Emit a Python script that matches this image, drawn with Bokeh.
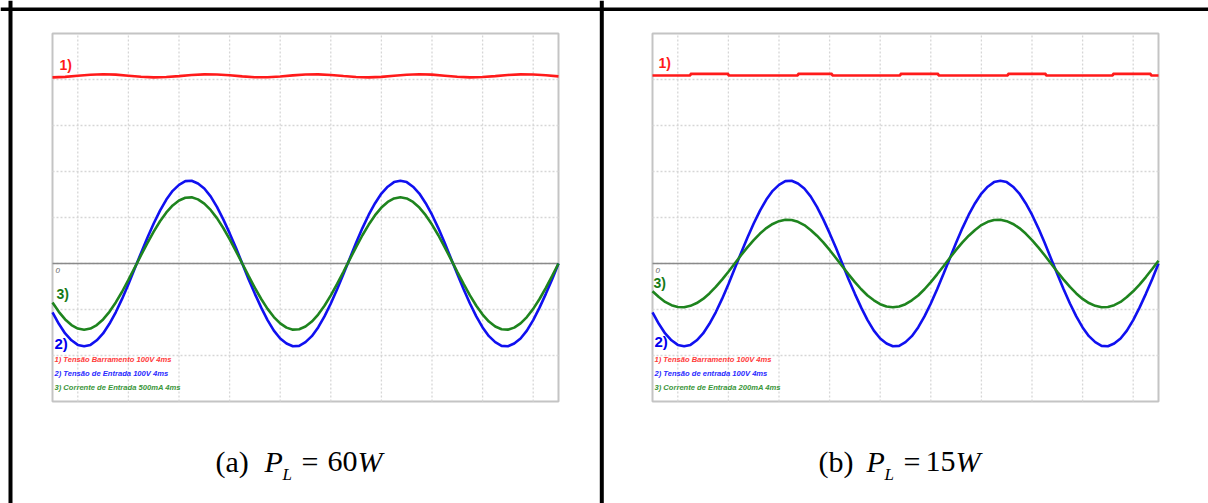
from bokeh.plotting import figure
from bokeh.models import Range1d
from bokeh.core.properties import value
from bokeh.embed import file_html
from bokeh.resources import INLINE

# ---------------- data ----------------
# sample instants (ms), 0.5 ms apart, over the 10 x 4 ms screen
t_ms = [0.5 * k for k in range(81)]
# red trace time base (ms) for panel a, 1 ms apart
t_red_a = [float(k) for k in range(41)]

# (a) P_L = 60 W
bus_a_V = [404.7, 405.8, 408.1, 410.3, 411.3, 410.5, 408.3, 406.0, 404.7, 405.3,
           407.3, 409.7, 411.2, 410.9, 409.1, 406.7, 405.0, 404.9, 406.5, 408.9,
           410.9, 411.2, 409.8, 407.5, 405.4, 404.7, 405.8, 408.1, 410.3, 411.3,
           410.5, 408.3, 406.0, 404.7, 405.3, 407.3, 409.7, 411.2, 410.9, 409.1,
           406.7]
vin_a_V = [-106, -131, -152, -167, -177, -180, -177, -167, -152, -131, -106,
           -77, -45, -11, 23, 56, 87, 115, 139, 158, 171,
           179, 180, 174, 163, 146, 123, 96, 66, 34, 0,
           -34, -66, -96, -123, -146, -163, -174, -180, -179, -171,
           -158, -139, -115, -87, -56, -23, 11, 45, 77, 106,
           131, 152, 167, 177, 180, 177, 167, 152, 131, 106,
           77, 45, 11, -23, -56, -87, -115, -139, -158, -171,
           -179, -180, -174, -163, -146, -123, -96, -66, -34, 0]
iin_a_mA = [-423, -525, -608, -669, -707, -720, -707, -669, -608, -525, -423,
            -307, -179, -45, 90, 222, 347, 459, 555, 631, 685,
            714, 719, 697, 651, 582, 493, 386, 265, 135, 0,
            -135, -265, -386, -493, -582, -651, -697, -719, -714, -685,
            -631, -555, -459, -347, -222, -90, 45, 179, 307, 423,
            525, 608, 669, 707, 720, 707, 669, 608, 525, 423,
            307, 179, 45, -90, -222, -347, -459, -555, -631, -685,
            -714, -719, -697, -651, -582, -493, -386, -265, -135, 0]

# (b) P_L = 15 W
t_red_b = [0, 3.0, 3.0, 6.0, 6.0, 11.5, 11.5, 14.2, 14.2, 19.6, 19.6,
           22.6, 22.6, 28.1, 28.1, 31.1, 31.1, 36.4, 36.4, 39.4, 39.4, 40]
bus_b_V = [408.6, 408.6, 412.2, 412.2, 408.6, 408.6, 412.2, 412.2, 408.6, 408.6, 412.2,
           412.2, 408.6, 408.6, 412.2, 412.2, 408.6, 408.6, 412.2, 412.2, 408.6, 408.6]
vin_b_V = [-106, -131, -152, -167, -177, -180, -177, -167, -152, -131, -106,
           -77, -45, -11, 23, 56, 87, 115, 139, 158, 171,
           179, 180, 174, 163, 146, 123, 96, 66, 34, 0,
           -34, -66, -96, -123, -146, -163, -174, -180, -179, -171,
           -158, -139, -115, -87, -56, -23, 11, 45, 77, 106,
           131, 152, 167, 177, 180, 177, 167, 152, 131, 106,
           77, 45, 11, -23, -56, -87, -115, -139, -158, -171,
           -179, -180, -174, -163, -146, -123, -96, -66, -34, 0]
iin_b_mA = [-121, -146, -167, -181, -189, -190, -184, -172, -154, -130, -102,
            -70, -36, 0, 36, 70, 102, 130, 154, 172, 184,
            190, 189, 181, 167, 146, 121, 92, 59, 24, -12,
            -47, -81, -112, -139, -160, -177, -187, -190, -187, -177,
            -160, -139, -112, -81, -47, -12, 24, 59, 92, 121,
            146, 167, 181, 189, 190, 184, 172, 154, 130, 102,
            70, 36, 0, -36, -70, -102, -130, -154, -172, -184,
            -190, -189, -181, -167, -146, -121, -92, -59, -24, 12]

# scope settings (per division)
volts_per_div = 100
ma_per_div = [500, 200]
ms_per_div = 4
n_xdiv = 10
ydiv_min, ydiv_max = -3, 5

legend_a = ["1) Tensão Barramento 100V  4ms", "2) Tensão de Entrada 100V  4ms",
            "3) Corrente de Entrada 500mA  4ms"]
legend_b = ["1) Tensão Barramento  100V  4ms", "2) Tensão de entrada 100V  4ms",
            "3) Corrente de Entrada 200mA  4ms"]
caption_letters = ["(a)", "(b)"]
caption_power = ["60", "15"]

# ---------------- layout (page pixels) ----------------
W, H, OFF = 1208, 503, 0
frame_left = [52, 652]
frame_w = 506
zero_y = 263
px_div_y = 46
px_ms = frame_w / (n_xdiv * ms_per_div)

RED, BLUE, GREEN = "#ff1a1a", "#1010f0", "#1e841e"
RED_T, BLUE_T, GREEN_T = "#ff3a3a", "#2a2aff", "#3a963a"

p = figure(width=W, height=H, output_backend="svg", toolbar_location=None,
           x_range=Range1d(OFF, OFF + W), y_range=Range1d(OFF + H, OFF),
           x_axis_location=None, y_axis_location=None, min_border=0,
           outline_line_color=None, background_fill_color="white",
           border_fill_color="white")
p.xgrid.visible = False
p.ygrid.visible = False

p.extra_y_ranges = {"div": Range1d((zero_y - (OFF + H)) / px_div_y, (zero_y - OFF) / px_div_y)}
names = ["ta", "tb"]
p.extra_x_ranges = {n: Range1d((OFF - L) / px_ms, (OFF + W - L) / px_ms)
                    for n, L in zip(names, frame_left)}

t_end = n_xdiv * ms_per_div
vgrid = [ms_per_div * (i + 0.5) for i in range(n_xdiv)]
hgrid = [d for d in range(ydiv_min + 1, ydiv_max)]

panels = [
    (bus_a_V, t_red_a, vin_a_V, iin_a_mA, legend_a),
    (bus_b_V, t_red_b, vin_b_V, iin_b_mA, legend_b),
]

sans = value("Liberation Sans")
for i, (bus, tred, vin, iin, leg) in enumerate(panels):
    xr = names[i]
    kw = dict(x_range_name=xr, y_range_name="div")
    # screen box
    p.quad(left=[0], right=[t_end], bottom=[ydiv_min], top=[ydiv_max],
           fill_color="white", line_color="#c4c4c4", line_width=2, **kw)
    # dotted graticule
    p.segment(x0=vgrid, x1=vgrid, y0=[ydiv_min] * len(vgrid), y1=[ydiv_max] * len(vgrid),
              line_color="#d6d6d6", line_width=1.3, line_dash="2 2", **kw)
    p.segment(x0=[0] * len(hgrid), x1=[t_end] * len(hgrid), y0=hgrid, y1=hgrid,
              line_color="#d6d6d6", line_width=1.3, line_dash="2 2", **kw)
    # zero line
    p.segment(x0=[0], x1=[t_end], y0=[0], y1=[0], line_color="#8a8a8a", line_width=1.6, **kw)
    # traces
    p.line(tred, [v / volts_per_div for v in bus], line_color=RED, line_width=2.6, **kw)
    p.line(t_ms, [v / volts_per_div for v in vin], line_color=BLUE, line_width=2.6, **kw)
    p.line(t_ms, [a / ma_per_div[i] for a in iin], line_color=GREEN, line_width=2.6, **kw)

    L = frame_left[i]
    # channel markers
    p.text(x=[L + 7 - i], y=[64 - 2 * i], text=["1)"], text_color=RED,
           text_font=sans, text_font_style="bold",
           text_font_size="14px", text_baseline="middle")
    p.text(x=[L + 2], y=[343 - 2 * i], text=["2)"], text_color="#0000ee",
           text_font=sans, text_font_style="bold",
           text_font_size="15px", text_baseline="middle")
    p.text(x=[L + 4 - 3 * i], y=[293.5 - 11 * i], text=["3)"], text_color="#157a15",
           text_font=sans, text_font_style="bold",
           text_font_size="14px", text_baseline="middle")
    # zero marker
    p.text(x=[L + 3], y=[270], text=["0"], text_color="#666666",
           text_font=sans, text_font_style="italic",
           text_font_size="8px", text_baseline="middle")
    # legend lines
    p.text(x=[L + 2] * 3, y=[359.3, 373.3, 387], text=leg,
           text_color=[RED_T, BLUE_T, GREEN_T],
           text_font=sans, text_font_style="bold italic",
           text_font_size="7.6px", text_baseline="middle")

# captions
serif = value("Liberation Serif")
cap_x = [(215, 264, 282, 301, 327, 357), (818, 866, 884, 903, 925, 955)]
for i in range(2):
    xl, xp, xs, xe, xn, xw = cap_x[i]
    p.text(x=[xl], y=[460.5], text=[caption_letters[i]], text_font=serif,
           text_font_size="30px", text_color="black", text_baseline="middle")
    p.text(x=[xp], y=[460.5], text=["P"], text_font=serif, text_font_style="italic",
           text_font_size="30px", text_color="black", text_baseline="middle")
    p.text(x=[xs], y=[473.5], text=["L"], text_font=serif, text_font_style="italic",
           text_font_size="17px", text_color="black", text_baseline="middle")
    p.text(x=[xe], y=[460.5], text=["="], text_font=serif,
           text_font_size="30px", text_color="black", text_baseline="middle")
    p.text(x=[xn], y=[460.5], text=[caption_power[i]], text_font=serif,
           text_font_size="30px", text_color="black", text_baseline="middle")
    p.text(x=[xw], y=[460.5], text=["W"], text_font=serif, text_font_style="italic",
           text_font_size="30px", text_color="black", text_baseline="middle")

# panel frame (black rules)
p.segment(x0=[0, 10, 601.3], x1=[W, 10, 601.3], y0=[8.8, 0, 0], y1=[8.8, H, H],
          line_color="black", line_width=[3.5, 4, 4])

open("out.html", "w").write(file_html(p, INLINE))
